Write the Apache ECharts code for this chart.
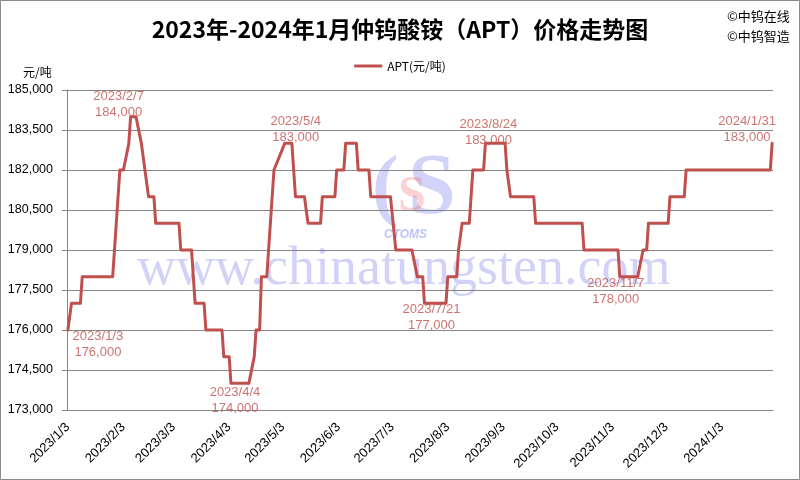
<!DOCTYPE html>
<html><head><meta charset="utf-8">
<script src="https://cdn.jsdelivr.net/npm/echarts@6/dist/echarts.min.js"></script>
<style>html,body{margin:0;padding:0;background:#fff}#c{width:800px;height:480px}</style>
</head><body><div id="c"></div>
<script>
// ---- data ----
const priceDates = [
 '2023/1/3','2023/1/4','2023/1/5','2023/1/10','2023/1/11','2023/1/28','2023/2/1','2023/2/3',
 '2023/2/6','2023/2/7','2023/2/10','2023/2/13','2023/2/14','2023/2/15','2023/2/16','2023/2/17',
 '2023/2/20','2023/2/21','2023/3/6','2023/3/7','2023/3/13','2023/3/15','2023/3/20','2023/3/21',
 '2023/3/30','2023/3/31','2023/4/3','2023/4/4','2023/4/14','2023/4/17','2023/4/18','2023/4/20',
 '2023/4/21','2023/4/24','2023/4/25','2023/4/26','2023/4/28','2023/5/4','2023/5/8','2023/5/9',
 '2023/5/10','2023/5/15','2023/5/17','2023/5/24','2023/5/25','2023/6/1','2023/6/2','2023/6/6',
 '2023/6/7','2023/6/13','2023/6/14','2023/6/20','2023/6/21','2023/7/2','2023/7/5','2023/7/14',
 '2023/7/17','2023/7/20','2023/7/21','2023/8/2','2023/8/3','2023/8/8','2023/8/9','2023/8/11',
 '2023/8/15','2023/8/17','2023/8/23','2023/8/24','2023/9/4','2023/9/5','2023/9/7','2023/9/20',
 '2023/9/21','2023/10/17','2023/10/18','2023/11/6','2023/11/7','2023/11/17','2023/11/20','2023/11/22',
 '2023/11/23','2023/12/4','2023/12/5','2023/12/13','2023/12/14','2024/1/30','2024/1/31'
];
const priceValues = [
 176000,176000,177000,177000,178000,178000,182000,182000,
 183000,184000,184000,183000,183000,182000,182000,181000,
 181000,180000,180000,179000,179000,177000,177000,176000,
 176000,175000,175000,174000,174000,175000,176000,176000,
 178000,178000,179000,179000,182000,183000,183000,182000,
 181000,181000,180000,180000,181000,181000,182000,182000,
 183000,183000,182000,182000,181000,181000,179000,179000,
 178000,178000,177000,177000,178000,178000,179000,180000,
 180000,182000,182000,183000,183000,182000,181000,181000,
 180000,180000,179000,179000,178000,178000,179000,179000,
 180000,180000,181000,181000,182000,182000,183000
];
const labelDates  = ['2023/1/3','2023/2/7','2023/4/4','2023/5/4','2023/7/21','2023/8/24','2023/11/7','2024/1/31'];
const labelValues = [176000,184000,174000,183000,177000,183000,178000,183000];
const seriesName = 'APT(元/吨)';
const axisStart = [2023,1,3], axisEnd = [2024,1,31];
const yMin = 173000, yMax = 185000, yStep = 1500;

// ---- layout (not data) ----
const labelOffsets = [[30,14],[-12,-12],[4,17],[11,-14],[7,14],[3,-11],[-4,15],[-25,-14]];

function fmtDate(d){return d.getFullYear()+'/'+(d.getMonth()+1)+'/'+d.getDate();}
const categories = [];
for (let d = new Date(axisStart[0],axisStart[1]-1,axisStart[2]); d <= new Date(axisEnd[0],axisEnd[1]-1,axisEnd[2]); d.setDate(d.getDate()+1)) categories.push(fmtDate(d));
const fmtNum = v => String(v).replace(/\B(?=(\d{3})+(?!\d))/g, ',');
const isTickDay = (i, v) => /\/3$/.test(v);

const chart = echarts.init(document.getElementById('c'), null, {renderer:'canvas'});
const RED = '#C0504D';
const AX = '#868686';
chart.setOption({
  animation:false,
  backgroundColor:'#fff',
  title:{text:'2023年-2024年1月仲钨酸铵（APT）价格走势图', left:'center', top:13,
    textStyle:{fontFamily:'Noto Sans CJK SC', fontWeight:'bold', fontSize:23, color:'#000'}},
  legend:{data:[seriesName], top:55, left:'center', icon:'rect', itemWidth:28, itemHeight:3, itemGap:4,
    textStyle:{fontFamily:'Noto Sans CJK SC', fontSize:12, color:'#000'}},
  grid:{left:67, right:27, top:90, bottom:70, containLabel:false},
  xAxis:{type:'category', data:categories, boundaryGap:true,
    axisLine:{lineStyle:{color:AX, width:1}},
    axisTick:{interval:isTickDay, alignWithLabel:true, length:5, lineStyle:{color:AX}},
    axisLabel:{interval:isTickDay, rotate:45, margin:15, fontFamily:'Liberation Sans', fontSize:13, color:'#000'},
    splitLine:{show:false}},
  yAxis:{type:'value', min:yMin, max:yMax, interval:yStep,
    axisLine:{show:true, lineStyle:{color:AX}},
    axisTick:{show:true, length:5, lineStyle:{color:AX}},
    axisLabel:{formatter:fmtNum, margin:14, fontFamily:'Liberation Sans', fontSize:12.5, color:'#000'},
    splitLine:{lineStyle:{color:AX, width:1}}},
  graphic:[
    {type:'rect', shape:{x:0.5,y:0.5,width:799,height:479}, style:{fill:'none', stroke:'#8a8a8a', lineWidth:1}, z:100},
    {type:'text', left:23, top:66, style:{text:'元/吨', font:'12px "Noto Sans CJK SC"', fill:'#000'}},
    {type:'text', left:727, top:10, style:{text:'©中钨在线', font:'13px "Noto Sans CJK SC"', fill:'#000'}},
    {type:'text', left:727, top:30, style:{text:'©中钨智造', font:'13px "Noto Sans CJK SC"', fill:'#000'}},
    {type:'text', left:137, top:243, z:-1, style:{text:'www.chinatungsten.com', font:'54px "Liberation Serif"', fill:'rgba(90,90,230,0.27)'}},
    {type:'text', left:372, top:150, z:-1, style:{text:'(', font:'bold 80px "Liberation Serif"', fill:'rgba(90,100,230,0.28)'}},
    {type:'text', left:408, top:148, z:-1, style:{text:'S', font:'bold 86px "Liberation Serif"', fill:'rgba(90,100,230,0.28)'}},
    {type:'text', left:398, top:172, z:-1, style:{text:'S', font:'bold 50px "Liberation Serif"', fill:'rgba(240,90,90,0.28)'}},
    {type:'text', left:384, top:229, z:-1, style:{text:'CTOMS', font:'italic bold 12px "Liberation Sans"', fill:'rgba(90,100,230,0.4)'}}
  ],
  series:[
    {name:seriesName, type:'line', showSymbol:false, symbol:'none',
     data:priceDates.map((d,i)=>[d, priceValues[i]]),
     lineStyle:{color:RED, width:3, cap:'round', join:'round'}, itemStyle:{color:RED}, z:3},
    {type:'scatter', symbolSize:1, itemStyle:{color:'rgba(0,0,0,0)'}, z:4, silent:true,
     data:labelDates.map((d,i)=>({value:[d, labelValues[i]], label:{offset:labelOffsets[i]}})),
     label:{show:true, position:'inside', color:RED, fontFamily:'Liberation Sans', fontSize:13, lineHeight:16,
       formatter:p=>p.value[0]+'\n'+fmtNum(p.value[1])}}
  ]
});
</script></body></html>
